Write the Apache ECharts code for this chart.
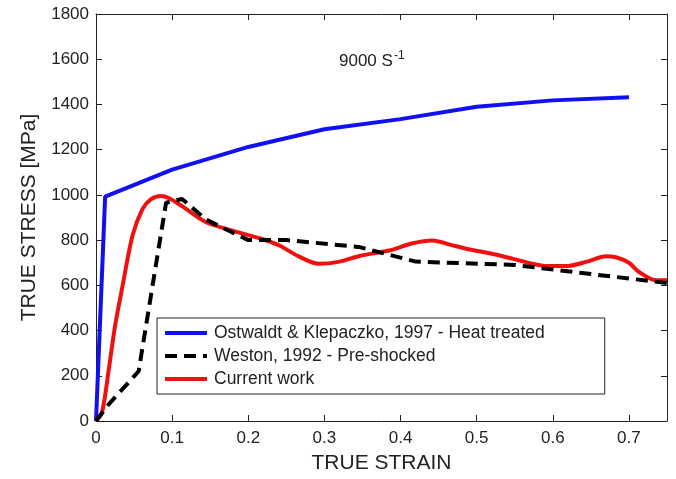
<!DOCTYPE html>
<html>
<head>
<meta charset="utf-8">
<script src="https://cdn.jsdelivr.net/npm/echarts@6/dist/echarts.min.js"></script>
<style>
  html, body { margin: 0; padding: 0; background: #fff; }
  #chart { width: 676px; height: 479px; }
</style>
</head>
<body>
<div id="chart"></div>
<script>
// Ostwaldt & Klepaczko, 1997 - heat treated
var strainOstwaldt = [0, 0.012, 0.1, 0.2, 0.3, 0.4, 0.5, 0.6, 0.7];
var stressOstwaldt = [0, 992, 1112, 1212, 1290, 1335, 1390, 1418, 1432];

// Weston, 1992 - pre-shocked
var strainWeston = [0, 0.017, 0.056, 0.092, 0.113, 0.145, 0.2, 0.25, 0.345, 0.42, 0.55, 0.75];
var stressWeston = [0, 75, 220, 965, 982, 890, 800, 800, 770, 705, 690, 610];

// Current work
var strainCurrent = [0, 0.008, 0.017, 0.025, 0.035, 0.048, 0.061, 0.072, 0.085, 0.096, 0.113, 0.144,
  0.179, 0.218, 0.241, 0.265, 0.293, 0.32, 0.346, 0.385, 0.415, 0.442, 0.465, 0.486, 0.52, 0.547,
  0.59, 0.617, 0.645, 0.67, 0.683, 0.7, 0.713, 0.736, 0.75];
var stressCurrent = [0, 40, 233, 420, 600, 820, 937, 980, 995, 985, 950, 880,
  842, 805, 776, 730, 695, 705, 730, 754, 785, 798, 780, 762, 740, 718,
  686, 685, 705, 729, 724, 700, 660, 622, 622];

var xTicks = [0, 0.1, 0.2, 0.3, 0.4, 0.5, 0.6, 0.7];
var yTicks = [0, 200, 400, 600, 800, 1000, 1200, 1400, 1600, 1800];

var seriesNames = [
  'Ostwaldt & Klepaczko, 1997 - Heat treated',
  'Weston, 1992 - Pre-shocked',
  'Current work'
];

function pairs(xs, ys) {
  return xs.map(function (x, i) { return [x, ys[i]]; });
}

var font = '"Liberation Sans", Arial, sans-serif';
var textColor = '#222';

var chart = echarts.init(document.getElementById('chart'), null, { renderer: 'canvas' });

// Shared frame styling: every side of the box carries inward ticks
function frameAxis(extra) {
  return Object.assign({
    splitLine: { show: false },
    axisLine: { show: true, onZero: false, lineStyle: { color: '#222', width: 1 } },
    axisTick: { show: true, inside: true, length: 6, lineStyle: { color: '#222', width: 1 } }
  }, extra);
}

chart.setOption({
  animation: false,
  backgroundColor: '#fff',
  title: {
    text: '9000 S{sup|-1}',
    left: 334,
    top: 45,
    textStyle: {
      fontFamily: font, fontSize: 17, fontWeight: 'normal', color: textColor,
      rich: {
        sup: { fontFamily: font, fontSize: 12, color: textColor, verticalAlign: 'top', padding: [0, 0, 11, 1] }
      }
    }
  },
  grid: { left: 96, right: 9, top: 14, bottom: 56 },
  legend: {
    orient: 'vertical',
    left: 157,
    top: 318,
    data: seriesNames,
    backgroundColor: '#fff',
    borderColor: '#222',
    borderWidth: 1,
    padding: [6, 60, 6, 6],
    itemGap: 5,
    itemWidth: 42,
    itemHeight: 12,
    itemStyle: { opacity: 0 },
    lineStyle: { width: 4 },
    textStyle: { fontFamily: font, fontSize: 17.5, color: textColor, padding: [0, 0, 0, 2] }
  },
  xAxis: [
    frameAxis({
      type: 'value', min: 0, max: 0.75, interval: 0.1, position: 'bottom',
      name: 'TRUE STRAIN', nameLocation: 'middle', nameGap: 32,
      nameTextStyle: { fontFamily: font, fontSize: 21, color: textColor },
      axisLabel: {
        fontFamily: font, fontSize: 17, color: textColor, margin: 9,
        showMaxLabel: false,
        formatter: function (v) {
          var idx = xTicks.findIndex(function (t) { return Math.abs(t - v) < 1e-9; });
          return idx >= 0 ? String(xTicks[idx]) : '';
        }
      }
    }),
    frameAxis({
      type: 'value', min: 0, max: 0.75, interval: 0.1, position: 'top',
      axisLabel: { show: false }
    })
  ],
  yAxis: [
    frameAxis({
      type: 'value', min: 0, max: 1800, interval: 200, position: 'left',
      name: 'TRUE STRESS [MPa]', nameLocation: 'middle', nameGap: 56,
      nameTextStyle: { fontFamily: font, fontSize: 21, color: textColor },
      axisLabel: {
        fontFamily: font, fontSize: 17, color: textColor, margin: 7,
        formatter: function (v) { return yTicks.indexOf(v) >= 0 ? String(v) : ''; }
      }
    }),
    frameAxis({
      type: 'value', min: 0, max: 1800, interval: 200, position: 'right',
      axisLabel: { show: false }
    })
  ],
  series: [
    {
      name: seriesNames[0], type: 'line', xAxisIndex: 0, yAxisIndex: 0,
      data: pairs(strainOstwaldt, stressOstwaldt),
      showSymbol: false, symbol: 'none',
      lineStyle: { color: '#1010f0', width: 4 },
      itemStyle: { color: '#1010f0' },
      z: 3
    },
    {
      name: seriesNames[1], type: 'line', xAxisIndex: 0, yAxisIndex: 0,
      data: pairs(strainWeston, stressWeston),
      showSymbol: false, symbol: 'none',
      lineStyle: { color: '#000', width: 4, type: [12, 7] },
      itemStyle: { color: '#000' },
      z: 4
    },
    {
      name: seriesNames[2], type: 'line', xAxisIndex: 0, yAxisIndex: 0,
      data: pairs(strainCurrent, stressCurrent),
      showSymbol: false, symbol: 'none', smooth: 0.3,
      lineStyle: { color: '#f01010', width: 4 },
      itemStyle: { color: '#f01010' },
      z: 3
    }
  ]
});
</script>
</body>
</html>
